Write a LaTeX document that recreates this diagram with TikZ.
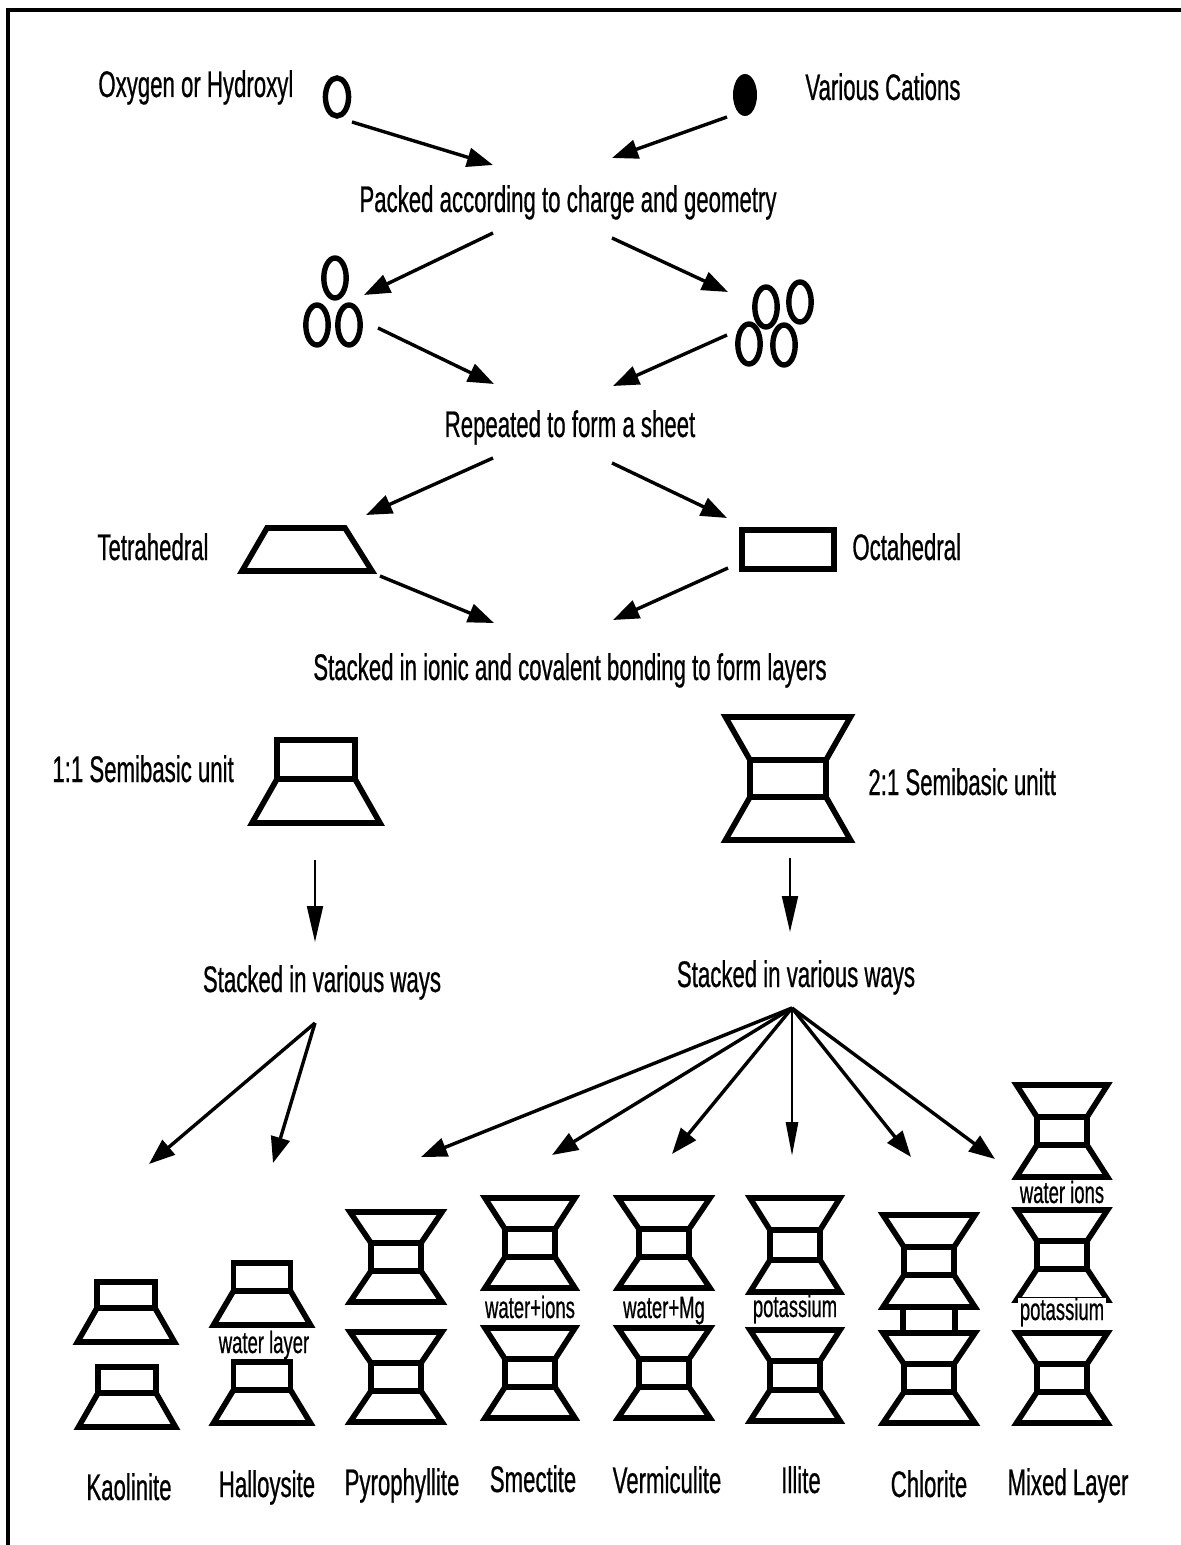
\documentclass[tikz,border=0pt]{standalone}
\usepackage{fontspec}
\setmainfont{Liberation Sans}[FakeStretch=0.6,FakeBold=0.6]
\usetikzlibrary{arrows.meta}
\newcommand{\bigf}{\fontsize{18.5}{21}\selectfont}
\newcommand{\smallf}{\fontsize{15.4}{18}\selectfont}
% 2:1 unit: cx, top, wide, narrow, trap h, rect h
\newcommand{\unitTOT}[6]{%
  \draw[shp] ({#1-#3/2},#2) -- ({#1+#3/2},#2) -- ({#1+#4/2},{#2+#5}) -- ({#1-#4/2},{#2+#5}) -- cycle;
  \draw[shp] ({#1-#4/2},{#2+#5}) rectangle ({#1+#4/2},{#2+#5+#6});
  \draw[shp] ({#1-#4/2},{#2+#5+#6}) -- ({#1+#4/2},{#2+#5+#6}) -- ({#1+#3/2},{#2+2*#5+#6}) -- ({#1-#3/2},{#2+2*#5+#6}) -- cycle;}
% 1:1 unit: cx, top, wide, narrow, rect h, trap h
\newcommand{\unitOO}[6]{%
  \draw[shp] ({#1-#4/2},#2) rectangle ({#1+#4/2},{#2+#5});
  \draw[shp] ({#1-#4/2},{#2+#5}) -- ({#1+#4/2},{#2+#5}) -- ({#1+#3/2},{#2+#5+#6}) -- ({#1-#3/2},{#2+#5+#6}) -- cycle;}
\begin{document}
\begin{tikzpicture}[x=0.5pt,y=-0.5pt,
  lab/.style={font=\bigf, inner sep=0pt, anchor=base},
  labw/.style={font=\bigf, inner sep=0pt, anchor=base west},
  slab/.style={font=\smallf, inner sep=0pt, anchor=base, fill=white, inner xsep=1pt},
  arr/.style={line width=1.7pt, -{Triangle[length=13pt,width=9.5pt]}},
  narrowarr/.style={line width=1.4pt, -{Triangle[length=17pt,width=6pt]}},
  thinarr/.style={line width=1pt, -{Triangle[length=18pt,width=8pt]}},
  shp/.style={line width=2.8pt, line join=miter},
  ring/.style={line width=2.7pt}]
\useasboundingbox (0,0) rectangle (1181,1545);
\fill[white] (-10,-10) rectangle (1195,1560);
% frame
\draw[line width=1.6pt] (8,1560) -- (8,10) -- (1195,10);

% ---- top row
\node[labw] (oxy) at (98,97) {Oxygen or Hydroxyl};
\draw[ring] (337,97) ellipse [x radius=5.8pt, y radius=9.5pt];
\node[labw] (cat) at (805,100) {Various Cations};
\fill (745,95) ellipse [x radius=6pt, y radius=10.5pt];
\node[lab] (packed) at (568,212) {Packed according to charge and geometry};
\coordinate (a1s) at (352,122); \coordinate (a1e) at (493,165);
\coordinate (a2s) at (727,117); \coordinate (a2e) at (612,158);
\draw[arr] (a1s) -- (a1e);
\draw[arr] (a2s) -- (a2e);

% ---- clusters
\foreach \cx/\cy in {335/278, 317/325, 349/325, 766/307, 800/302, 749/344, 784/345}
  \draw[ring] (\cx,\cy) ellipse [x radius=5.6pt, y radius=10pt];
\coordinate (a3s) at (493,233); \coordinate (a3e) at (364,295);
\coordinate (a4s) at (612,238); \coordinate (a4e) at (728,292);
\draw[arr] (a3s) -- (a3e);
\draw[arr] (a4s) -- (a4e);
\node[lab] (rep) at (570,437) {Repeated to form a sheet};
\coordinate (a5s) at (378,328); \coordinate (a5e) at (494,384);
\coordinate (a6s) at (727,335); \coordinate (a6e) at (613,386);
\draw[arr] (a5s) -- (a5e);
\draw[arr] (a6s) -- (a6e);

% ---- sheets
\coordinate (a7s) at (493,458); \coordinate (a7e) at (366,515);
\coordinate (a8s) at (612,463); \coordinate (a8e) at (727,518);
\draw[arr] (a7s) -- (a7e);
\draw[arr] (a8s) -- (a8e);
\node[labw] (tet) at (97,560) {Tetrahedral};
\draw[shp] (267,528) -- (345,528) -- (372,571) -- (242,571) -- cycle;
\node[labw] (oct) at (852,560) {Octahedral};
\draw[shp] (742,530) rectangle (834,569);
\coordinate (a9s) at (380,576); \coordinate (a9e) at (494,623);
\coordinate (a10s) at (728,568); \coordinate (a10e) at (613,620);
\draw[arr] (a9s) -- (a9e);
\draw[arr] (a10s) -- (a10e);
\node[lab] (ionic) at (570,680) {Stacked in ionic and covalent bonding to form layers};

% ---- semibasic units
\node[labw] (u11) at (52,782) {1:1 Semibasic unit};
\unitOO{316}{740}{128}{78}{39}{44}
\node[labw] (u21) at (868,795) {2:1 Semibasic unitt};
\unitTOT{788}{717}{125}{76}{43}{37}
\coordinate (v1s) at (315,860); \coordinate (v1e) at (315,942);
\coordinate (v2s) at (790,858); \coordinate (v2e) at (790,932);
\draw[thinarr] (v1s) -- (v1e);
\draw[thinarr] (v2s) -- (v2e);
\node[lab] (svl) at (322,992) {Stacked in various ways};
\node[lab] (svr) at (796,987) {Stacked in various ways};

% ---- fans
\coordinate (fl) at (315,1023);
\coordinate (tk) at (149,1164); \coordinate (th) at (273,1163);
\draw[arr] (fl) -- (tk);
\draw[arr] (fl) -- (th);
\coordinate (fr) at (792,1008);
\coordinate (tp) at (421,1157); \coordinate (ts) at (552,1155);
\coordinate (tv) at (672,1154); \coordinate (ti) at (792,1156);
\coordinate (tc) at (911,1157); \coordinate (tm) at (995,1159);
\draw[arr] (fr) -- (tp);
\draw[arr] (fr) -- (ts);
\draw[arr] (fr) -- (tv);
\draw[narrowarr] (fr) -- (ti);
\draw[arr] (fr) -- (tc);
\draw[arr] (fr) -- (tm);

% ---- Kaolinite
\unitOO{126}{1282}{97}{58}{26}{34}
\unitOO{127}{1367}{97}{58}{26}{34}
% ---- Halloysite
\unitOO{262}{1263}{97}{57}{28}{34}
\unitOO{262}{1362}{97}{57}{28}{33}
\node[slab] (wl) at (264,1353) {water layer};
% ---- Pyrophyllite
\unitTOT{396}{1212}{92}{50}{31}{28}
\unitTOT{396}{1332}{92}{50}{31}{28}
% ---- Smectite
\unitTOT{530}{1198}{90}{50}{31}{28}
\unitTOT{530}{1328}{90}{50}{31}{28}
\node[slab] (wi) at (530,1318) {water+ions};
% ---- Vermiculite
\unitTOT{664}{1198}{92}{50}{31}{28}
\unitTOT{664}{1328}{92}{50}{31}{28}
\node[slab] (wm) at (664,1318) {water+Mg};
% ---- Illite
\unitTOT{795}{1198}{90}{50}{32}{30}
\unitTOT{795}{1330}{90}{50}{31}{29}
\node[slab] (k1) at (795,1317) {potassium};
% ---- Chlorite
\unitTOT{929}{1215}{92}{50}{32}{28}
\draw[shp] (903,1307) rectangle (955,1333);
\unitTOT{929}{1333}{92}{50}{31}{28}
% ---- Mixed layer
\unitTOT{1062}{1085}{91}{50}{32}{28}
\unitTOT{1062}{1210}{91}{50}{31}{28}
\unitTOT{1062}{1333}{91}{50}{31}{28}
\node[slab] (wio) at (1062,1203) {water ions};
\node[slab] (k2) at (1062,1320) {potassium};

% ---- bottom labels
\node[lab] (kao) at (129,1500) {Kaolinite};
\node[lab] (hal) at (267,1497) {Halloysite};
\node[lab] (pyr) at (402,1495) {Pyrophyllite};
\node[lab] (sme) at (533,1492) {Smectite};
\node[lab] (ver) at (667,1493) {Vermiculite};
\node[lab] (ill) at (801,1493) {Illite};
\node[lab] (chl) at (929,1497) {Chlorite};
\node[lab] (mix) at (1068,1495) {Mixed Layer};
\end{tikzpicture}
\end{document}
